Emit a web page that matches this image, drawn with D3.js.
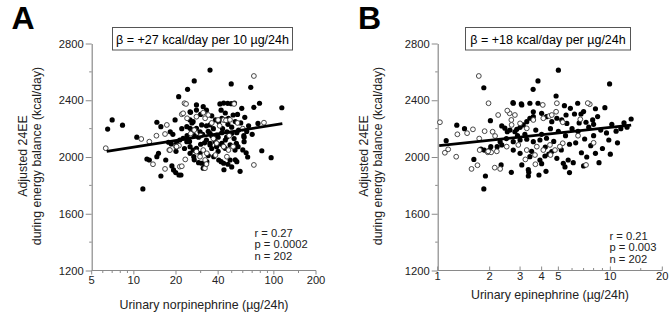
<!DOCTYPE html>
<html>
<head>
<meta charset="utf-8">
<script src="https://cdn.jsdelivr.net/npm/d3@7"></script>
<style>
  body { margin: 0; background: #fff; }
  text { font-family: "Liberation Sans", Arial, sans-serif; }
</style>
</head>
<body>
<div class="chart"></div>
<script>
// ---- data ----
// panel A: urinary norepinephrine (ug/24h) vs adjusted 24EE (kcal/day)
const neFilled = [
  [7.0,2261],[6.5,2197],[8.3,2224],[10.5,2140],[11.6,1775],[14.6,2245],[15.6,2214],[18.2,2178],
  [19.7,2261],[20.9,2425],[24.2,2477],[27,2536],[25.4,2315],[12.4,1986],[12.9,1979],[14.6,2002],
  [15,2026],[16.9,1979],[15.6,1866],[18.7,1937],[19.2,1909],[19.9,1890],[21,1873],[21.7,1873],
  [17.7,2104],[18.5,2092],[35,2613],[49.6,2515],[68.4,2491],[41.2,2374],[43.8,2380],[46.8,2378],
  [49.6,2376],[52.3,2380],[59,2343],[72,2350],[79,2379],[114,2347],[28,2367],[31.3,2355],
  [77,2237],[61.3,2139],[61.3,2108],[54,2097],[63.4,2030],[82,2044],[95.6,1995],[57.4,1899],
  [53,1980],[47,1949],[42,1967],[28,2331],[25.2,2319],[25.2,2261],[26.5,2249],[23.9,2214],
  [25.2,2202],[26.5,2190],[28,2202],[29.7,2178],[30.5,2226],[35,2226],[38.3,2261],[40.4,2249],
  [42.5,2273],[44.9,2261],[47.4,2273],[51.2,2296],[35,2167],[39,2155],[42.5,2171],[46.2,2178],
  [50.2,2167],[54.4,2171],[21.3,2120],[22.5,2132],[23.9,2108],[20.2,2097],[25.2,2073],[26.5,2049],
  [25.2,2026],[28,2061],[29.7,2026],[26.8,2002],[30.5,1956],[32.3,1944],[31.3,1921],[33.2,1967],
  [35,2097],[39,2073],[42.5,2097],[44.9,2061],[48.7,2085],[52.8,2049],[55.5,2073],[37.2,2002],
  [40.4,1979],[43.8,1956],[48.7,1979],[54.4,1967],[27,2150],[29,2140],[31,2160],[33,2120],
  [34,2180],[36,2150],[37,2200],[38,2110],[40,2140],[43,2200],[45,2120],[47,2230],
  [50,2210],[52,2130],[56,2190],[58,2240],[62,2280],[64,2180],[66,2220],[70,2160],
  [24,2150],[22,2200],[26,2240],[30,2300],[33,2330],[36,2290],[42,2330],[45,2310],
  [55,2300],[40,2040],[36,2060],[34,2010],[29,1960],[27,1980],[44,1910],[50,1930],
  [60,2050],[65,2000],[30,2090],[32,2100],[35,2085],[25,2110],[23,2060],[20,2040],
  [19,2160],[42,2090],[46,2140],[53,2250],[61,2150],[33,2220]
];
const neOpen = [
  [6.3,2062],[11.3,2127],[17.2,2226],[16.7,2162],[23,2379],[23.6,2374],[22,2301],[24,2273],
  [13.7,1949],[16.7,1916],[21.3,1932],[22,1935],[17.9,2049],[20,2073],[21,2080],[23.3,1983],
  [72,2571],[52,2374],[40,2261],[43.8,2261],[45.5,2258],[48.6,2262],[85,2242],[72,1944],
  [32.2,1921],[22.5,2308],[28,2284],[31.3,2312],[32.3,2273],[34,2296],[39,2097],[43.8,2073],
  [47.4,2049],[51.2,2073],[46.2,2002],[38.3,2014],[29.7,2002],[32.3,1979],[31.3,2049],[33.2,2026],
  [28,2038],[18.1,2049],[20.2,2073],[27,2190],[30,2150],[36,2240],[25.5,2165],[37,2130],
  [41,2220],[55,2240],[60,2200],[48,2150],[33,1950],[12.9,2108],[14.5,2150]
];
const neFit = [[6.4,2040],[115,2235]];

// panel B: urinary epinephrine (ug/24h) vs adjusted 24EE (kcal/day)
const epFilled = [
  [1.12,2115],[1.85,2488],[1.29,2224],[1.43,2200],[2.02,2256],[1.62,1983],[1.89,1866],[1.85,1775],
  [2.33,1944],[2.67,1892],[2.73,2383],[3.05,2374],[3.81,2536],[3.57,2477],[3.81,2379],[3.37,1892],
  [3.86,1873],[5.0,2612],[9.9,2515],[4.85,2430],[5.42,2362],[5.87,2343],[6.47,2379],[9.3,2348],
  [5.54,2296],[6.2,2303],[6.76,2303],[7.23,2245],[7.9,2261],[8.44,2285],[13.2,2268],[10.8,2182],
  [7.1,2127],[8.2,2026],[7.0,1937],[5.8,1890],[3.35,1911],[4.0,1953],[4.24,1899],[5.46,1930],
  [1.78,2056],[1.86,2049],[2.0,2049],[2.03,2073],[2.21,2073],[2.3,2108],[2.35,2085],[3.07,1944],
  [3.35,1866],[2.35,2219],[2.45,2203],[2.53,2178],[2.62,2190],[2.8,2178],[2.87,2195],[3.0,2209],
  [3.13,2226],[3.28,2249],[3.42,2273],[3.58,2284],[3.58,2319],[4.0,2308],[4.27,2284],[4.58,2249],
  [4.9,2273],[5.23,2261],[5.6,2237],[2.74,2108],[3.0,2120],[3.28,2125],[3.58,2108],[3.91,2120],
  [4.27,2132],[2.74,2049],[3.0,2026],[3.42,2002],[3.91,1979],[4.18,2007],[4.58,2038],[4.9,1991],
  [5.34,1956],[5.7,1979],[6.0,2200],[6.5,2180],[7.5,2210],[8.0,2150],[8.8,2190],[9.5,2170],
  [10.2,2230],[11.5,2200],[12.0,2240],[6.3,2100],[7.7,2080],[9.0,2060],[5.5,2150],[5.0,2180],
  [4.5,2200],[4.0,2160],[6.8,2030],[7.3,2000],[8.6,1960],[5.2,2050],[4.4,2020],[6.1,1960],
  [9.8,2120],[11.0,2100],[12.5,2210],[3.2,2160],[2.9,2150],[2.5,2130],[3.7,2190],[4.7,2110],
  [5.8,2090],[6.6,2240],[7.0,2320],[8.2,2340],[8.0,2230],[10.0,2020],[3.5,2040],[4.2,2070],
  [2.74,2379],[3.07,2367],[3.42,2379]
];
const epOpen = [
  [1.03,2245],[1.1,2030],[1.15,2054],[1.28,2002],[1.73,2571],[1.97,2379],[1.48,2168],[1.74,2130],
  [1.87,2182],[1.57,1916],[1.70,1942],[2.14,1925],[2.3,1916],[1.75,2049],[1.95,2033],[2.04,2033],
  [2.61,2308],[2.67,2261],[3.22,1983],[3.68,1949],[4.06,2367],[4.9,2379],[4.43,2289],[4.85,2319],
  [5.3,2245],[6.7,2266],[5.3,2097],[4.5,2014],[7.23,1944],[7.6,2372],[1.96,2040],[2.08,2178],
  [2.15,2148],[2.24,2296],[2.53,2327],[2.8,2296],[2.68,2226],[2.51,2073],[2.93,2085],[3.28,2049],
  [3.75,2073],[3.66,2014],[4.09,2049],[4.47,2085],[4.78,2049],[5.1,2073],[3.0,2237],[3.28,2202],
  [3.58,2261],[4.09,2273],[4.58,2296],[7.4,2380],[6.5,2150],[8.0,2100],[1.6,2195],[2.2,2040],
  [1.3,2160]
];
const epFit = [[1.02,2080],[13.2,2224]];

const yTicks = [1200, 1600, 2000, 2400, 2800];
const yMinor = [1400, 1800, 2200, 2600];
const neTicks = [5, 10, 20, 40, 100, 200];
const neMinor = [6, 7, 8, 9, 30, 50, 60, 70, 80, 90, 150];
const epTicks = [1, 2, 3, 4, 5, 10, 20];
const epMinor = [6, 7, 8, 9, 15];

const panels = [
  { letter: "A", filled: neFilled, open: neOpen, fit: neFit,
    domain: [5, 200], xr: [91.7, 316], ticks: neTicks, minor: neMinor, tickDir: 1,
    tickBase: 284, xlab: "Urinary norpinephrine (\u00b5g/24h)", xlabX: 204, xlabY: 309,
    ylabX: [27, 40.5], letterX: 11.5,
    box: [112.5, 292.5], beta: "\u03b2 = +27 kcal/day per 10 \u00b5g/24h",
    stats: ["r = 0.27", "p = 0.0002", "n = 202"], statX: 254.5, statY: [237, 248.3, 259.6] },
  { letter: "B", filled: epFilled, open: epOpen, fit: epFit,
    domain: [1, 20], xr: [437.7, 662.3], ticks: epTicks, minor: epMinor, tickDir: -1,
    tickBase: 280, xlab: "Urinary epinephrine (\u00b5g/24h)", xlabX: 550, xlabY: 299,
    ylabX: [368, 381.5], letterX: 358,
    box: [465.5, 630.5], beta: "\u03b2 = +18 kcal/day per \u00b5g/24h",
    stats: ["r = 0.21", "p = 0.003", "n = 202"], statX: 609.5, statY: [239.5, 251, 262.5] }
];

const width = 669, height = 324;
const svg = d3.select(".chart").append("svg")
  .attr("width", width).attr("height", height);

const y = d3.scaleLinear().domain([1200, 2800]).range([270.5, 43.5]);
const axisColor = "#8a8a8a";

panels.forEach((p) => {
  const x = d3.scaleLog().domain(p.domain).range(p.xr);
  const g = svg.append("g");
  const x0 = p.xr[0];

  // panel letter
  g.append("text").attr("x", p.letterX).attr("y", 28.5)
    .attr("font-size", 32).attr("font-weight", "bold").text(p.letter);

  // y axis
  const ya = d3.axisLeft(y).tickValues(yTicks).tickFormat(d3.format("d"))
    .tickSize(6).tickPadding(2).tickSizeOuter(0);
  const yg = g.append("g").attr("transform", `translate(${x0},0)`).call(ya);
  yg.selectAll(".tick line").attr("stroke", axisColor);
  yg.select(".domain").attr("stroke", axisColor).attr("stroke-width", 1.2);
  yg.selectAll("text").attr("font-size", 11.2).attr("fill", "#222")
    .attr("font-family", "Liberation Sans, Arial, sans-serif");
  g.append("g").selectAll("line").data(yMinor).enter().append("line")
    .attr("x1", x0 - 2.5).attr("x2", x0).attr("y1", (d) => y(d)).attr("y2", (d) => y(d))
    .attr("stroke", axisColor);

  // x axis
  const y0 = y(1200);
  g.append("line").attr("x1", p.xr[0]).attr("x2", p.xr[1]).attr("y1", y0).attr("y2", y0)
    .attr("stroke", axisColor).attr("stroke-width", 1.2);
  g.append("g").selectAll("line").data(p.ticks).enter().append("line")
    .attr("x1", (d) => x(d)).attr("x2", (d) => x(d))
    .attr("y1", y0).attr("y2", y0 + 4 * p.tickDir).attr("stroke", axisColor);
  g.append("g").selectAll("line").data(p.minor).enter().append("line")
    .attr("x1", (d) => x(d)).attr("x2", (d) => x(d))
    .attr("y1", y0).attr("y2", y0 + 2.5 * p.tickDir).attr("stroke", axisColor);
  g.append("g").selectAll("text").data(p.ticks).enter().append("text")
    .attr("x", (d) => x(d)).attr("y", p.tickBase).attr("text-anchor", "middle")
    .attr("font-size", 11.2).attr("fill", "#222").text((d) => d);

  // axis titles
  g.append("text").attr("x", p.xlabX).attr("y", p.xlabY).attr("text-anchor", "middle")
    .attr("font-size", 12.4).attr("fill", "#222").text(p.xlab);
  ["Adjusted 24EE", "during energy balance (kcal/day)"].forEach((t, i) => {
    g.append("text").attr("transform", `translate(${p.ylabX[i]},156) rotate(-90)`)
      .attr("text-anchor", "middle").attr("font-size", 12.3).attr("fill", "#222").text(t);
  });

  // points
  g.append("g").selectAll("circle").data(p.filled).enter().append("circle")
    .attr("cx", (d) => x(d[0])).attr("cy", (d) => y(d[1])).attr("r", 2.6)
    .attr("fill", "#000");
  g.append("g").selectAll("circle").data(p.open).enter().append("circle")
    .attr("cx", (d) => x(d[0])).attr("cy", (d) => y(d[1])).attr("r", 2.4)
    .attr("fill", "#fff").attr("stroke", "#333").attr("stroke-width", 0.9);

  // regression line
  g.append("path").datum(p.fit)
    .attr("d", d3.line().x((d) => x(d[0])).y((d) => y(d[1])))
    .attr("stroke", "#000").attr("stroke-width", 2.8).attr("fill", "none");

  // beta box
  g.append("rect").attr("x", p.box[0]).attr("y", 27.5)
    .attr("width", p.box[1] - p.box[0]).attr("height", 22.5)
    .attr("fill", "#fff").attr("stroke", "#555").attr("stroke-width", 1);
  g.append("text").attr("x", (p.box[0] + p.box[1]) / 2).attr("y", 43.5)
    .attr("text-anchor", "middle").attr("font-size", 12.5).text(p.beta);

  // stats
  g.append("g").selectAll("text").data(p.stats).enter().append("text")
    .attr("x", p.statX).attr("y", (d, i) => p.statY[i])
    .attr("font-size", 11.2).attr("fill", "#222").text((d) => d);
});
</script>
</body>
</html>
